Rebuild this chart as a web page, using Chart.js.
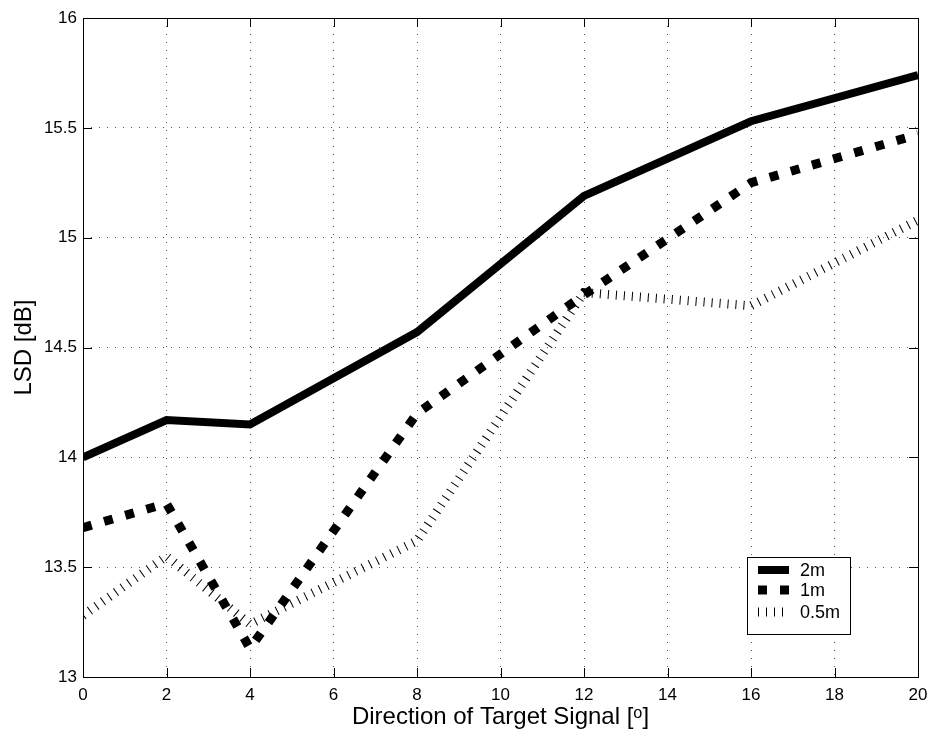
<!DOCTYPE html>
<html>
<head>
<meta charset="utf-8">
<script src="https://cdn.jsdelivr.net/npm/chart.js"></script>
<style>
  html, body { margin: 0; padding: 0; background: #fff; }
  #wrap { width: 930px; height: 741px; }
</style>
</head>
<body>
<div id="wrap"><canvas id="lsdChart" width="930" height="741"></canvas></div>
<script>
// direction of target signal in degrees
var directions = [0, 2, 4, 8, 12, 16, 20];
// LSD in dB for each distance
var lsd2m = [14.0, 14.17, 14.15, 14.57, 15.19, 15.53, 15.74];
var lsd1m = [13.68, 13.79, 13.13, 14.2, 14.74, 15.25, 15.47];
var lsd05m = [13.28, 13.55, 13.24, 13.62, 14.75, 14.69, 15.08];
var seriesNames = ["2m", "1m", "0.5m"];
var xTicks = [0, 2, 4, 6, 8, 10, 12, 14, 16, 18, 20];
var yTicks = [13, 13.5, 14, 14.5, 15, 15.5, 16];

function toPoints(values) {
    return directions.map(function (d, i) { return { x: d, y: values[i] }; });
}

Chart.defaults.font.family = "'Liberation Sans', Arial, sans-serif";
Chart.defaults.color = "#000";

// box, inward ticks and the legend drawn inside the plot area
var frame = {
    id: 'frame',
    afterDraw(chart) {
        const { ctx, chartArea: a, scales } = chart;
        const x = scales.x, y = scales.y;
        ctx.save();
        ctx.strokeStyle = "#000";
        ctx.lineWidth = 1;
        ctx.setLineDash([]);
        ctx.beginPath();
        xTicks.forEach(function (t) {
            const px = Math.round(x.getPixelForValue(t)) + 0.5;
            ctx.moveTo(px, a.bottom); ctx.lineTo(px, a.bottom - 9);
            ctx.moveTo(px, a.top); ctx.lineTo(px, a.top + 9);
        });
        yTicks.forEach(function (t) {
            const py = Math.round(y.getPixelForValue(t)) + 0.5;
            ctx.moveTo(a.left, py); ctx.lineTo(a.left + 9, py);
            ctx.moveTo(a.right, py); ctx.lineTo(a.right - 9, py);
        });
        ctx.stroke();
        ctx.strokeRect(Math.round(a.left) + 0.5, Math.round(a.top) + 0.5,
            Math.round(a.right - a.left), Math.round(a.bottom - a.top));

        // legend
        const lx = Math.round(a.right) - 171, ly = Math.round(a.bottom) - 120;
        ctx.fillStyle = "#fff";
        ctx.fillRect(lx, ly, 103, 77);
        ctx.strokeRect(lx + 0.5, ly + 0.5, 103, 77);
        const rows = [13, 33, 55];
        chart.data.datasets.forEach(function (ds, i) {
            const ry = ly + rows[i];
            ctx.save();
            ctx.strokeStyle = ds.borderColor;
            ctx.lineWidth = ds.borderWidth;
            ctx.lineCap = 'butt';
            ctx.setLineDash(ds.borderDash || []);
            ctx.beginPath();
            ctx.moveTo(lx + 11, ry);
            ctx.lineTo(lx + 42, ry);
            ctx.stroke();
            ctx.restore();
            ctx.fillStyle = "#000";
            ctx.font = "18px 'Liberation Sans', Arial, sans-serif";
            ctx.textBaseline = 'middle';
            ctx.textAlign = 'left';
            ctx.fillText(ds.label, lx + 53, ry + 1);
        });
        ctx.restore();
    }
};

var ctx = document.getElementById('lsdChart').getContext('2d');
var chart = new Chart(ctx, {
    type: 'line',
    data: {
        datasets: [{
            label: seriesNames[0],
            data: toPoints(lsd2m),
            borderColor: "#000",
            borderWidth: 8,
            borderJoinStyle: 'miter',
            pointRadius: 0,
            tension: 0
        }, {
            label: seriesNames[1],
            data: toPoints(lsd1m),
            borderColor: "#000",
            borderWidth: 9,
            borderDash: [9, 13],
            borderCapStyle: 'butt',
            pointRadius: 0,
            tension: 0
        }, {
            label: seriesNames[2],
            data: toPoints(lsd05m),
            borderColor: "#000",
            borderWidth: 9,
            borderDash: [1, 7],
            borderCapStyle: 'butt',
            pointRadius: 0,
            tension: 0
        }]
    },
    plugins: [frame],
    options: {
        responsive: false,
        animation: false,
        layout: { padding: { top: 18, right: 12, left: 0, bottom: 0 } },
        plugins: {
            legend: { display: false },
            tooltip: { enabled: false }
        },
        scales: {
            x: {
                type: 'linear',
                min: 0,
                max: 20,
                afterFit: function (scale) {
                    scale.height = 64;
                    scale.paddingLeft = 0;
                    scale.paddingRight = 0;
                },
                afterBuildTicks: function (scale) {
                    scale.ticks = xTicks.map(function (v) { return { value: v }; });
                },
                grid: { color: "#555", lineWidth: 1, drawTicks: false },
                border: { display: false, dash: [1, 7] },
                ticks: {
                    font: { size: 17 },
                    padding: 8,
                    maxRotation: 0,
                    callback: function (v) { return String(v); }
                },
                title: {
                    display: true,
                    text: "Direction of Target Signal [ᵒ]",
                    font: { size: 24 },
                    padding: { top: 0, bottom: 9 }
                }
            },
            y: {
                min: 13,
                max: 16,
                afterFit: function (scale) {
                    scale.width = 83;
                    scale.paddingTop = 0;
                    scale.paddingBottom = 0;
                },
                afterBuildTicks: function (scale) {
                    scale.ticks = yTicks.map(function (v) { return { value: v }; });
                },
                grid: { color: "#555", lineWidth: 1, drawTicks: false },
                border: { display: false, dash: [1, 7] },
                ticks: {
                    font: { size: 17 },
                    padding: 6,
                    callback: function (v) { return String(v); }
                },
                title: {
                    display: true,
                    text: "LSD [dB]",
                    font: { size: 24 },
                    padding: { top: 10, bottom: 0 }
                }
            }
        }
    }
});
</script>
</body>
</html>
